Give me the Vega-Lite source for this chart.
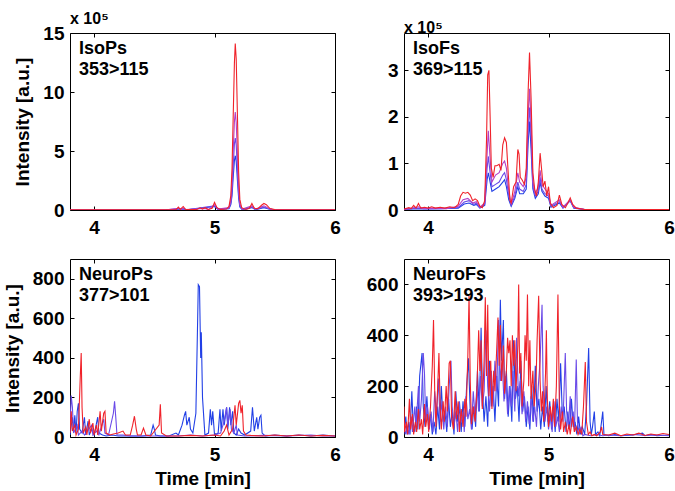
{
  "$schema": "https://vega.github.io/schema/vega-lite/v6.json",
  "background": "white",
  "padding": {"left": 2, "top": 10, "right": 4, "bottom": 2},
  "columns": 2,
  "bounds": "flush",
  "spacing": {"row": 49, "column": 69},
  "resolve": {"scale": {"x": "independent", "y": "independent"}},
  "config": {
    "font": "Liberation Sans",
    "view": {"stroke": "black", "strokeWidth": 1},
    "axis": {"labelFont": "Liberation Sans", "labelFontWeight": "bold", "labelFontSize": 19, "labelColor": "black", "titleFont": "Liberation Sans", "titleFontSize": 19, "titleFontWeight": "bold", "titleColor": "black", "tickColor": "black", "tickSize": -4, "tickWidth": 1, "domain": false, "grid": false, "labelFlush": false, "labelOverlap": false, "labelPadding": 10},
    "axisX": {"labelPadding": 12},
    "title": {"font": "Liberation Sans", "fontSize": 16, "fontWeight": "bold", "color": "black", "anchor": "start", "frame": "group", "offset": -3}
  },
  "datasets": {
    "isops": [
      {"s":"d","t":3.8,"v":0},{"s":"d","t":4.6,"v":0.01},{"s":"d","t":4.70,"v":0.06},{"s":"d","t":4.74,"v":0.08},{"s":"d","t":4.77,"v":0.01},{"s":"d","t":5.0,"v":0.3},{"s":"d","t":5.03,"v":0.04},{"s":"d","t":5.12,"v":0.1},{"s":"d","t":5.135,"v":0.45},{"s":"d","t":5.145,"v":1.2},{"s":"d","t":5.155,"v":2.8},{"s":"d","t":5.165,"v":4.2},{"s":"d","t":5.172,"v":4.6},{"s":"d","t":5.18,"v":4.1},{"s":"d","t":5.19,"v":2.5},{"s":"d","t":5.20,"v":1.0},{"s":"d","t":5.21,"v":0.25},{"s":"d","t":5.23,"v":0.03},{"s":"d","t":5.31,"v":0.2},{"s":"d","t":5.34,"v":0.03},{"s":"d","t":5.41,"v":0.2},{"s":"d","t":5.45,"v":0.08},{"s":"d","t":5.5,"v":0.01},{"s":"d","t":6.0,"v":0},
      {"s":"c","t":3.8,"v":0},{"s":"c","t":4.6,"v":0.01},{"s":"c","t":4.70,"v":0.1},{"s":"c","t":4.74,"v":0.12},{"s":"c","t":4.77,"v":0.02},{"s":"c","t":5.0,"v":0.35},{"s":"c","t":5.03,"v":0.05},{"s":"c","t":5.12,"v":0.15},{"s":"c","t":5.135,"v":0.6},{"s":"c","t":5.145,"v":1.6},{"s":"c","t":5.155,"v":3.7},{"s":"c","t":5.165,"v":5.6},{"s":"c","t":5.172,"v":6.1},{"s":"c","t":5.18,"v":5.5},{"s":"c","t":5.19,"v":3.4},{"s":"c","t":5.20,"v":1.3},{"s":"c","t":5.21,"v":0.35},{"s":"c","t":5.23,"v":0.05},{"s":"c","t":5.31,"v":0.25},{"s":"c","t":5.34,"v":0.05},{"s":"c","t":5.41,"v":0.25},{"s":"c","t":5.45,"v":0.1},{"s":"c","t":5.5,"v":0.02},{"s":"c","t":6.0,"v":0},
      {"s":"b","t":3.8,"v":0},{"s":"b","t":4.6,"v":0.01},{"s":"b","t":4.70,"v":0.15},{"s":"b","t":4.72,"v":0.03},{"s":"b","t":4.74,"v":0.18},{"s":"b","t":4.76,"v":0.03},{"s":"b","t":4.88,"v":0.1},{"s":"b","t":4.92,"v":0.12},{"s":"b","t":4.95,"v":0.03},{"s":"b","t":5.0,"v":0.45},{"s":"b","t":5.03,"v":0.08},{"s":"b","t":5.12,"v":0.2},{"s":"b","t":5.135,"v":0.8},{"s":"b","t":5.145,"v":2.2},{"s":"b","t":5.155,"v":5.0},{"s":"b","t":5.165,"v":7.5},{"s":"b","t":5.172,"v":8.3},{"s":"b","t":5.18,"v":7.4},{"s":"b","t":5.19,"v":4.6},{"s":"b","t":5.20,"v":1.8},{"s":"b","t":5.21,"v":0.5},{"s":"b","t":5.23,"v":0.08},{"s":"b","t":5.31,"v":0.35},{"s":"b","t":5.34,"v":0.08},{"s":"b","t":5.41,"v":0.35},{"s":"b","t":5.44,"v":0.2},{"s":"b","t":5.48,"v":0.03},{"s":"b","t":6.0,"v":0},
      {"s":"a","t":3.8,"v":0.01},{"s":"a","t":4.0,"v":0.01},{"s":"a","t":4.3,"v":0.01},{"s":"a","t":4.6,"v":0.02},{"s":"a","t":4.68,"v":0.03},{"s":"a","t":4.70,"v":0.25},{"s":"a","t":4.715,"v":0.05},{"s":"a","t":4.74,"v":0.3},{"s":"a","t":4.76,"v":0.04},{"s":"a","t":4.85,"v":0.03},{"s":"a","t":4.88,"v":0.18},{"s":"a","t":4.90,"v":0.08},{"s":"a","t":4.92,"v":0.2},{"s":"a","t":4.95,"v":0.05},{"s":"a","t":4.98,"v":0.15},{"s":"a","t":5.0,"v":0.65},{"s":"a","t":5.02,"v":0.2},{"s":"a","t":5.05,"v":0.05},{"s":"a","t":5.10,"v":0.08},{"s":"a","t":5.12,"v":0.3},{"s":"a","t":5.135,"v":1.2},{"s":"a","t":5.145,"v":3.5},{"s":"a","t":5.155,"v":8.0},{"s":"a","t":5.165,"v":12.5},{"s":"a","t":5.172,"v":14.1},{"s":"a","t":5.18,"v":12.8},{"s":"a","t":5.19,"v":8.0},{"s":"a","t":5.20,"v":3.2},{"s":"a","t":5.21,"v":0.9},{"s":"a","t":5.225,"v":0.2},{"s":"a","t":5.26,"v":0.05},{"s":"a","t":5.29,"v":0.15},{"s":"a","t":5.31,"v":0.55},{"s":"a","t":5.33,"v":0.15},{"s":"a","t":5.36,"v":0.12},{"s":"a","t":5.39,"v":0.4},{"s":"a","t":5.41,"v":0.55},{"s":"a","t":5.43,"v":0.45},{"s":"a","t":5.46,"v":0.12},{"s":"a","t":5.5,"v":0.03},{"s":"a","t":5.6,"v":0.01},{"s":"a","t":6.0,"v":0.01}
    ],
    "isofs": [
      {"s":"d","t":3.8,"v":0.01},{"s":"d","t":3.9,"v":0.03},{"s":"d","t":4.0,"v":0.02},{"s":"d","t":4.1,"v":0.03},{"s":"d","t":4.25,"v":0.04},{"s":"d","t":4.30,"v":0.13},{"s":"d","t":4.34,"v":0.15},{"s":"d","t":4.38,"v":0.1},{"s":"d","t":4.40,"v":0.12},{"s":"d","t":4.43,"v":0.04},{"s":"d","t":4.47,"v":0.1},{"s":"d","t":4.49,"v":0.65},{"s":"d","t":4.50,"v":0.8},{"s":"d","t":4.515,"v":0.6},{"s":"d","t":4.53,"v":0.4},{"s":"d","t":4.56,"v":0.45},{"s":"d","t":4.59,"v":0.5},{"s":"d","t":4.62,"v":0.6},{"s":"d","t":4.635,"v":0.65},{"s":"d","t":4.65,"v":0.5},{"s":"d","t":4.67,"v":0.22},{"s":"d","t":4.69,"v":0.08},{"s":"d","t":4.72,"v":0.25},{"s":"d","t":4.745,"v":0.5},{"s":"d","t":4.76,"v":0.35},{"s":"d","t":4.79,"v":0.35},{"s":"d","t":4.815,"v":0.45},{"s":"d","t":4.83,"v":1.4},{"s":"d","t":4.842,"v":1.9},{"s":"d","t":4.855,"v":1.3},{"s":"d","t":4.87,"v":0.45},{"s":"d","t":4.89,"v":0.25},{"s":"d","t":4.915,"v":0.35},{"s":"d","t":4.93,"v":0.6},{"s":"d","t":4.945,"v":0.4},{"s":"d","t":4.97,"v":0.3},{"s":"d","t":5.0,"v":0.25},{"s":"d","t":5.02,"v":0.06},{"s":"d","t":5.09,"v":0.15},{"s":"d","t":5.12,"v":0.04},{"s":"d","t":5.18,"v":0.2},{"s":"d","t":5.21,"v":0.04},{"s":"d","t":5.3,"v":0.01},{"s":"d","t":6.0,"v":0},
      {"s":"c","t":3.8,"v":0.01},{"s":"c","t":3.9,"v":0.04},{"s":"c","t":4.0,"v":0.03},{"s":"c","t":4.1,"v":0.03},{"s":"c","t":4.25,"v":0.05},{"s":"c","t":4.30,"v":0.17},{"s":"c","t":4.34,"v":0.2},{"s":"c","t":4.38,"v":0.12},{"s":"c","t":4.40,"v":0.15},{"s":"c","t":4.43,"v":0.05},{"s":"c","t":4.47,"v":0.12},{"s":"c","t":4.49,"v":0.9},{"s":"c","t":4.50,"v":1.15},{"s":"c","t":4.515,"v":0.8},{"s":"c","t":4.53,"v":0.5},{"s":"c","t":4.56,"v":0.55},{"s":"c","t":4.59,"v":0.6},{"s":"c","t":4.62,"v":0.75},{"s":"c","t":4.635,"v":0.8},{"s":"c","t":4.65,"v":0.65},{"s":"c","t":4.67,"v":0.3},{"s":"c","t":4.69,"v":0.1},{"s":"c","t":4.72,"v":0.3},{"s":"c","t":4.745,"v":0.6},{"s":"c","t":4.76,"v":0.45},{"s":"c","t":4.79,"v":0.4},{"s":"c","t":4.815,"v":0.55},{"s":"c","t":4.83,"v":1.7},{"s":"c","t":4.842,"v":2.2},{"s":"c","t":4.855,"v":1.6},{"s":"c","t":4.87,"v":0.5},{"s":"c","t":4.89,"v":0.3},{"s":"c","t":4.915,"v":0.4},{"s":"c","t":4.93,"v":0.7},{"s":"c","t":4.945,"v":0.45},{"s":"c","t":4.97,"v":0.35},{"s":"c","t":5.0,"v":0.3},{"s":"c","t":5.02,"v":0.08},{"s":"c","t":5.09,"v":0.18},{"s":"c","t":5.12,"v":0.05},{"s":"c","t":5.18,"v":0.2},{"s":"c","t":5.21,"v":0.05},{"s":"c","t":5.3,"v":0.01},{"s":"c","t":6.0,"v":0},
      {"s":"b","t":3.8,"v":0.01},{"s":"b","t":3.88,"v":0.05},{"s":"b","t":3.92,"v":0.07},{"s":"b","t":3.96,"v":0.03},{"s":"b","t":4.05,"v":0.04},{"s":"b","t":4.15,"v":0.03},{"s":"b","t":4.25,"v":0.08},{"s":"b","t":4.29,"v":0.22},{"s":"b","t":4.33,"v":0.25},{"s":"b","t":4.37,"v":0.15},{"s":"b","t":4.40,"v":0.18},{"s":"b","t":4.43,"v":0.06},{"s":"b","t":4.47,"v":0.15},{"s":"b","t":4.49,"v":1.2},{"s":"b","t":4.50,"v":1.7},{"s":"b","t":4.515,"v":1.1},{"s":"b","t":4.53,"v":0.6},{"s":"b","t":4.56,"v":0.75},{"s":"b","t":4.59,"v":0.8},{"s":"b","t":4.62,"v":1.0},{"s":"b","t":4.635,"v":1.05},{"s":"b","t":4.65,"v":0.9},{"s":"b","t":4.67,"v":0.4},{"s":"b","t":4.69,"v":0.12},{"s":"b","t":4.72,"v":0.4},{"s":"b","t":4.745,"v":0.8},{"s":"b","t":4.76,"v":0.6},{"s":"b","t":4.79,"v":0.5},{"s":"b","t":4.815,"v":0.7},{"s":"b","t":4.83,"v":2.0},{"s":"b","t":4.842,"v":2.6},{"s":"b","t":4.855,"v":1.9},{"s":"b","t":4.87,"v":0.6},{"s":"b","t":4.89,"v":0.35},{"s":"b","t":4.915,"v":0.5},{"s":"b","t":4.93,"v":0.85},{"s":"b","t":4.945,"v":0.55},{"s":"b","t":4.97,"v":0.45},{"s":"b","t":5.0,"v":0.35},{"s":"b","t":5.02,"v":0.1},{"s":"b","t":5.09,"v":0.22},{"s":"b","t":5.12,"v":0.06},{"s":"b","t":5.18,"v":0.22},{"s":"b","t":5.21,"v":0.06},{"s":"b","t":5.3,"v":0.01},{"s":"b","t":6.0,"v":0},
      {"s":"a","t":3.8,"v":0.02},{"s":"a","t":3.84,"v":0.05},{"s":"a","t":3.86,"v":0.03},{"s":"a","t":3.88,"v":0.1},{"s":"a","t":3.90,"v":0.04},{"s":"a","t":3.92,"v":0.14},{"s":"a","t":3.94,"v":0.04},{"s":"a","t":3.97,"v":0.06},{"s":"a","t":4.0,"v":0.04},{"s":"a","t":4.03,"v":0.07},{"s":"a","t":4.06,"v":0.04},{"s":"a","t":4.1,"v":0.06},{"s":"a","t":4.14,"v":0.04},{"s":"a","t":4.18,"v":0.07},{"s":"a","t":4.22,"v":0.05},{"s":"a","t":4.25,"v":0.12},{"s":"a","t":4.27,"v":0.3},{"s":"a","t":4.29,"v":0.38},{"s":"a","t":4.31,"v":0.36},{"s":"a","t":4.33,"v":0.38},{"s":"a","t":4.35,"v":0.32},{"s":"a","t":4.37,"v":0.2},{"s":"a","t":4.39,"v":0.24},{"s":"a","t":4.41,"v":0.2},{"s":"a","t":4.43,"v":0.08},{"s":"a","t":4.45,"v":0.05},{"s":"a","t":4.47,"v":0.2},{"s":"a","t":4.485,"v":1.5},{"s":"a","t":4.495,"v":2.9},{"s":"a","t":4.505,"v":3.0},{"s":"a","t":4.515,"v":2.0},{"s":"a","t":4.525,"v":0.9},{"s":"a","t":4.54,"v":0.7},{"s":"a","t":4.555,"v":0.95},{"s":"a","t":4.57,"v":0.95},{"s":"a","t":4.59,"v":0.98},{"s":"a","t":4.605,"v":0.85},{"s":"a","t":4.62,"v":1.4},{"s":"a","t":4.635,"v":1.55},{"s":"a","t":4.65,"v":1.45},{"s":"a","t":4.665,"v":0.8},{"s":"a","t":4.68,"v":0.2},{"s":"a","t":4.69,"v":0.15},{"s":"a","t":4.71,"v":0.5},{"s":"a","t":4.73,"v":0.6},{"s":"a","t":4.745,"v":1.3},{"s":"a","t":4.755,"v":1.2},{"s":"a","t":4.765,"v":0.7},{"s":"a","t":4.78,"v":0.65},{"s":"a","t":4.80,"v":0.55},{"s":"a","t":4.815,"v":0.9},{"s":"a","t":4.83,"v":2.5},{"s":"a","t":4.842,"v":3.38},{"s":"a","t":4.855,"v":2.4},{"s":"a","t":4.87,"v":0.8},{"s":"a","t":4.885,"v":0.45},{"s":"a","t":4.90,"v":0.3},{"s":"a","t":4.915,"v":0.6},{"s":"a","t":4.93,"v":1.22},{"s":"a","t":4.945,"v":0.8},{"s":"a","t":4.955,"v":0.5},{"s":"a","t":4.97,"v":0.62},{"s":"a","t":4.985,"v":0.3},{"s":"a","t":5.0,"v":0.5},{"s":"a","t":5.015,"v":0.15},{"s":"a","t":5.04,"v":0.05},{"s":"a","t":5.07,"v":0.1},{"s":"a","t":5.09,"v":0.32},{"s":"a","t":5.11,"v":0.12},{"s":"a","t":5.14,"v":0.05},{"s":"a","t":5.16,"v":0.15},{"s":"a","t":5.18,"v":0.26},{"s":"a","t":5.20,"v":0.12},{"s":"a","t":5.23,"v":0.04},{"s":"a","t":5.3,"v":0.01},{"s":"a","t":6.0,"v":0.01}
    ],
    "neurops": [
      {"s":"d","t":3.80,"v":10},{"s":"d","t":3.82,"v":100},{"s":"d","t":3.83,"v":30},{"s":"d","t":3.84,"v":110},{"s":"d","t":3.85,"v":20},{"s":"d","t":3.86,"v":130},{"s":"d","t":3.87,"v":170},{"s":"d","t":3.88,"v":40},{"s":"d","t":3.90,"v":20},{"s":"d","t":3.92,"v":100},{"s":"d","t":3.93,"v":10},{"s":"d","t":3.95,"v":80},{"s":"d","t":3.96,"v":10},{"s":"d","t":3.98,"v":40},{"s":"d","t":4.00,"v":10},{"s":"d","t":4.03,"v":100},{"s":"d","t":4.04,"v":20},{"s":"d","t":4.07,"v":10},{"s":"d","t":4.10,"v":5},{"s":"d","t":4.15,"v":10},{"s":"d","t":4.2,"v":5},{"s":"d","t":4.3,"v":5},{"s":"d","t":4.4,"v":5},{"s":"d","t":4.47,"v":10},{"s":"d","t":4.49,"v":60},{"s":"d","t":4.50,"v":40},{"s":"d","t":4.51,"v":10},{"s":"d","t":4.55,"v":5},{"s":"d","t":4.62,"v":5},{"s":"d","t":4.68,"v":20},{"s":"d","t":4.70,"v":10},{"s":"d","t":4.73,"v":60},{"s":"d","t":4.75,"v":110},{"s":"d","t":4.76,"v":130},{"s":"d","t":4.77,"v":60},{"s":"d","t":4.79,"v":100},{"s":"d","t":4.80,"v":40},{"s":"d","t":4.82,"v":20},{"s":"d","t":4.845,"v":120},{"s":"d","t":4.86,"v":600},{"s":"d","t":4.865,"v":770},{"s":"d","t":4.875,"v":760},{"s":"d","t":4.885,"v":400},{"s":"d","t":4.89,"v":530},{"s":"d","t":4.90,"v":200},{"s":"d","t":4.92,"v":10},{"s":"d","t":4.95,"v":20},{"s":"d","t":4.965,"v":140},{"s":"d","t":4.975,"v":60},{"s":"d","t":4.985,"v":130},{"s":"d","t":5.00,"v":10},{"s":"d","t":5.03,"v":20},{"s":"d","t":5.045,"v":140},{"s":"d","t":5.055,"v":30},{"s":"d","t":5.07,"v":140},{"s":"d","t":5.08,"v":60},{"s":"d","t":5.10,"v":150},{"s":"d","t":5.11,"v":40},{"s":"d","t":5.125,"v":150},{"s":"d","t":5.135,"v":60},{"s":"d","t":5.15,"v":130},{"s":"d","t":5.16,"v":20},{"s":"d","t":5.18,"v":10},{"s":"d","t":5.20,"v":40},{"s":"d","t":5.22,"v":20},{"s":"d","t":5.25,"v":10},{"s":"d","t":5.30,"v":30},{"s":"d","t":5.315,"v":150},{"s":"d","t":5.33,"v":30},{"s":"d","t":5.35,"v":100},{"s":"d","t":5.36,"v":40},{"s":"d","t":5.375,"v":100},{"s":"d","t":5.385,"v":110},{"s":"d","t":5.395,"v":20},{"s":"d","t":5.42,"v":5},{"s":"d","t":5.5,"v":10},{"s":"d","t":5.6,"v":5},{"s":"d","t":5.7,"v":10},{"s":"d","t":5.8,"v":5},{"s":"d","t":5.9,"v":10},{"s":"d","t":6.0,"v":5},
      {"s":"c","t":3.80,"v":50},{"s":"c","t":3.81,"v":210},{"s":"c","t":3.82,"v":150},{"s":"c","t":3.83,"v":20},{"s":"c","t":3.86,"v":60},{"s":"c","t":3.87,"v":10},{"s":"c","t":3.90,"v":30},{"s":"c","t":3.92,"v":10},{"s":"c","t":3.98,"v":60},{"s":"c","t":3.99,"v":10},{"s":"c","t":4.02,"v":30},{"s":"c","t":4.04,"v":10},{"s":"c","t":4.08,"v":90},{"s":"c","t":4.09,"v":20},{"s":"c","t":4.12,"v":10},{"s":"c","t":4.16,"v":120},{"s":"c","t":4.17,"v":180},{"s":"c","t":4.18,"v":100},{"s":"c","t":4.19,"v":10},{"s":"c","t":4.24,"v":10},{"s":"c","t":4.3,"v":5},{"s":"c","t":4.4,"v":5},{"s":"c","t":4.5,"v":5},{"s":"c","t":4.6,"v":5},{"s":"c","t":4.7,"v":5},{"s":"c","t":4.8,"v":10},{"s":"c","t":4.9,"v":5},{"s":"c","t":5.0,"v":10},{"s":"c","t":5.05,"v":20},{"s":"c","t":5.08,"v":80},{"s":"c","t":5.10,"v":150},{"s":"c","t":5.11,"v":60},{"s":"c","t":5.13,"v":140},{"s":"c","t":5.14,"v":40},{"s":"c","t":5.16,"v":20},{"s":"c","t":5.18,"v":60},{"s":"c","t":5.19,"v":10},{"s":"c","t":5.25,"v":5},{"s":"c","t":5.4,"v":8},{"s":"c","t":5.6,"v":5},{"s":"c","t":5.8,"v":10},{"s":"c","t":5.9,"v":5},{"s":"c","t":6.0,"v":5},
      {"s":"a","t":3.80,"v":20},{"s":"a","t":3.81,"v":130},{"s":"a","t":3.82,"v":30},{"s":"a","t":3.84,"v":60},{"s":"a","t":3.85,"v":10},{"s":"a","t":3.87,"v":40},{"s":"a","t":3.885,"v":300},{"s":"a","t":3.893,"v":425},{"s":"a","t":3.90,"v":150},{"s":"a","t":3.91,"v":20},{"s":"a","t":3.93,"v":50},{"s":"a","t":3.94,"v":10},{"s":"a","t":3.96,"v":90},{"s":"a","t":3.97,"v":20},{"s":"a","t":3.99,"v":70},{"s":"a","t":4.00,"v":10},{"s":"a","t":4.02,"v":60},{"s":"a","t":4.03,"v":10},{"s":"a","t":4.05,"v":130},{"s":"a","t":4.06,"v":30},{"s":"a","t":4.08,"v":120},{"s":"a","t":4.09,"v":130},{"s":"a","t":4.10,"v":20},{"s":"a","t":4.13,"v":10},{"s":"a","t":4.16,"v":15},{"s":"a","t":4.20,"v":20},{"s":"a","t":4.24,"v":30},{"s":"a","t":4.26,"v":10},{"s":"a","t":4.30,"v":10},{"s":"a","t":4.32,"v":60},{"s":"a","t":4.335,"v":105},{"s":"a","t":4.35,"v":40},{"s":"a","t":4.36,"v":10},{"s":"a","t":4.39,"v":10},{"s":"a","t":4.41,"v":45},{"s":"a","t":4.43,"v":10},{"s":"a","t":4.47,"v":5},{"s":"a","t":4.54,"v":60},{"s":"a","t":4.55,"v":165},{"s":"a","t":4.56,"v":20},{"s":"a","t":4.60,"v":5},{"s":"a","t":4.7,"v":5},{"s":"a","t":4.8,"v":8},{"s":"a","t":4.9,"v":5},{"s":"a","t":5.0,"v":10},{"s":"a","t":5.05,"v":5},{"s":"a","t":5.08,"v":30},{"s":"a","t":5.10,"v":60},{"s":"a","t":5.12,"v":10},{"s":"a","t":5.15,"v":40},{"s":"a","t":5.17,"v":160},{"s":"a","t":5.18,"v":60},{"s":"a","t":5.20,"v":170},{"s":"a","t":5.21,"v":185},{"s":"a","t":5.22,"v":120},{"s":"a","t":5.23,"v":160},{"s":"a","t":5.24,"v":30},{"s":"a","t":5.26,"v":10},{"s":"a","t":5.3,"v":8},{"s":"a","t":5.4,"v":5},{"s":"a","t":5.5,"v":10},{"s":"a","t":5.6,"v":5},{"s":"a","t":5.7,"v":10},{"s":"a","t":5.8,"v":5},{"s":"a","t":5.9,"v":8},{"s":"a","t":6.0,"v":5}
    ],
    "neurofs": [
      {"s":"d","t":3.80,"v":20},{"s":"d","t":3.815,"v":80},{"s":"d","t":3.825,"v":10},{"s":"d","t":3.84,"v":60},{"s":"d","t":3.85,"v":10},{"s":"d","t":3.865,"v":180},{"s":"d","t":3.875,"v":60},{"s":"d","t":3.89,"v":20},{"s":"d","t":3.905,"v":120},{"s":"d","t":3.915,"v":30},{"s":"d","t":3.93,"v":240},{"s":"d","t":3.95,"v":330},{"s":"d","t":3.96,"v":120},{"s":"d","t":3.975,"v":40},{"s":"d","t":3.99,"v":160},{"s":"d","t":4.005,"v":30},{"s":"d","t":4.02,"v":90},{"s":"d","t":4.035,"v":10},{"s":"d","t":4.05,"v":60},{"s":"d","t":4.065,"v":10},{"s":"d","t":4.08,"v":120},{"s":"d","t":4.095,"v":30},{"s":"d","t":4.11,"v":200},{"s":"d","t":4.125,"v":60},{"s":"d","t":4.14,"v":100},{"s":"d","t":4.155,"v":20},{"s":"d","t":4.17,"v":150},{"s":"d","t":4.185,"v":40},{"s":"d","t":4.20,"v":100},{"s":"d","t":4.215,"v":10},{"s":"d","t":4.23,"v":180},{"s":"d","t":4.245,"v":60},{"s":"d","t":4.26,"v":120},{"s":"d","t":4.275,"v":20},{"s":"d","t":4.29,"v":140},{"s":"d","t":4.305,"v":40},{"s":"d","t":4.32,"v":200},{"s":"d","t":4.335,"v":310},{"s":"d","t":4.35,"v":100},{"s":"d","t":4.365,"v":30},{"s":"d","t":4.38,"v":120},{"s":"d","t":4.395,"v":40},{"s":"d","t":4.41,"v":260},{"s":"d","t":4.425,"v":100},{"s":"d","t":4.44,"v":430},{"s":"d","t":4.45,"v":200},{"s":"d","t":4.465,"v":60},{"s":"d","t":4.48,"v":160},{"s":"d","t":4.495,"v":40},{"s":"d","t":4.51,"v":300},{"s":"d","t":4.525,"v":120},{"s":"d","t":4.54,"v":200},{"s":"d","t":4.555,"v":60},{"s":"d","t":4.57,"v":240},{"s":"d","t":4.585,"v":120},{"s":"d","t":4.60,"v":540},{"s":"d","t":4.61,"v":300},{"s":"d","t":4.625,"v":460},{"s":"d","t":4.635,"v":150},{"s":"d","t":4.65,"v":260},{"s":"d","t":4.665,"v":80},{"s":"d","t":4.68,"v":200},{"s":"d","t":4.695,"v":60},{"s":"d","t":4.71,"v":380},{"s":"d","t":4.725,"v":150},{"s":"d","t":4.74,"v":200},{"s":"d","t":4.755,"v":60},{"s":"d","t":4.77,"v":300},{"s":"d","t":4.785,"v":100},{"s":"d","t":4.80,"v":160},{"s":"d","t":4.815,"v":40},{"s":"d","t":4.83,"v":120},{"s":"d","t":4.845,"v":30},{"s":"d","t":4.86,"v":200},{"s":"d","t":4.875,"v":60},{"s":"d","t":4.89,"v":280},{"s":"d","t":4.905,"v":100},{"s":"d","t":4.92,"v":150},{"s":"d","t":4.935,"v":30},{"s":"d","t":4.95,"v":120},{"s":"d","t":4.965,"v":40},{"s":"d","t":4.98,"v":200},{"s":"d","t":4.995,"v":60},{"s":"d","t":5.01,"v":140},{"s":"d","t":5.025,"v":30},{"s":"d","t":5.04,"v":120},{"s":"d","t":5.055,"v":20},{"s":"d","t":5.07,"v":150},{"s":"d","t":5.085,"v":60},{"s":"d","t":5.10,"v":290},{"s":"d","t":5.115,"v":80},{"s":"d","t":5.13,"v":120},{"s":"d","t":5.145,"v":20},{"s":"d","t":5.16,"v":100},{"s":"d","t":5.175,"v":30},{"s":"d","t":5.19,"v":150},{"s":"d","t":5.205,"v":40},{"s":"d","t":5.22,"v":60},{"s":"d","t":5.235,"v":10},{"s":"d","t":5.25,"v":80},{"s":"d","t":5.265,"v":10},{"s":"d","t":5.28,"v":40},{"s":"d","t":5.30,"v":10},{"s":"d","t":5.315,"v":120},{"s":"d","t":5.333,"v":350},{"s":"d","t":5.345,"v":60},{"s":"d","t":5.355,"v":10},{"s":"d","t":5.365,"v":40},{"s":"d","t":5.38,"v":100},{"s":"d","t":5.39,"v":10},{"s":"d","t":5.41,"v":20},{"s":"d","t":5.425,"v":5},{"s":"d","t":5.44,"v":60},{"s":"d","t":5.45,"v":100},{"s":"d","t":5.46,"v":10},{"s":"d","t":5.5,"v":5},{"s":"d","t":5.55,"v":10},{"s":"d","t":5.6,"v":5},{"s":"d","t":5.7,"v":8},{"s":"d","t":5.78,"v":15},{"s":"d","t":5.8,"v":5},{"s":"d","t":5.85,"v":10},{"s":"d","t":5.9,"v":5},{"s":"d","t":6.0,"v":8},
      {"s":"c","t":3.80,"v":60},{"s":"c","t":3.81,"v":10},{"s":"c","t":3.83,"v":40},{"s":"c","t":3.84,"v":10},{"s":"c","t":3.86,"v":80},{"s":"c","t":3.87,"v":20},{"s":"c","t":3.89,"v":120},{"s":"c","t":3.90,"v":40},{"s":"c","t":3.92,"v":200},{"s":"c","t":3.93,"v":60},{"s":"c","t":3.945,"v":150},{"s":"c","t":3.96,"v":330},{"s":"c","t":3.97,"v":250},{"s":"c","t":3.98,"v":60},{"s":"c","t":3.995,"v":120},{"s":"c","t":4.01,"v":30},{"s":"c","t":4.025,"v":100},{"s":"c","t":4.04,"v":20},{"s":"c","t":4.055,"v":180},{"s":"c","t":4.07,"v":80},{"s":"c","t":4.085,"v":230},{"s":"c","t":4.10,"v":60},{"s":"c","t":4.115,"v":140},{"s":"c","t":4.13,"v":30},{"s":"c","t":4.145,"v":120},{"s":"c","t":4.16,"v":40},{"s":"c","t":4.175,"v":200},{"s":"c","t":4.19,"v":300},{"s":"c","t":4.20,"v":120},{"s":"c","t":4.215,"v":40},{"s":"c","t":4.23,"v":100},{"s":"c","t":4.245,"v":20},{"s":"c","t":4.26,"v":140},{"s":"c","t":4.275,"v":60},{"s":"c","t":4.29,"v":100},{"s":"c","t":4.30,"v":20},{"s":"c","t":4.315,"v":160},{"s":"c","t":4.33,"v":70},{"s":"c","t":4.345,"v":110},{"s":"c","t":4.36,"v":30},{"s":"c","t":4.375,"v":180},{"s":"c","t":4.39,"v":80},{"s":"c","t":4.405,"v":200},{"s":"c","t":4.42,"v":100},{"s":"c","t":4.435,"v":240},{"s":"c","t":4.45,"v":120},{"s":"c","t":4.465,"v":180},{"s":"c","t":4.48,"v":420},{"s":"c","t":4.495,"v":200},{"s":"c","t":4.51,"v":100},{"s":"c","t":4.525,"v":260},{"s":"c","t":4.54,"v":120},{"s":"c","t":4.555,"v":300},{"s":"c","t":4.57,"v":180},{"s":"c","t":4.585,"v":460},{"s":"c","t":4.60,"v":220},{"s":"c","t":4.615,"v":300},{"s":"c","t":4.63,"v":140},{"s":"c","t":4.645,"v":240},{"s":"c","t":4.66,"v":90},{"s":"c","t":4.675,"v":200},{"s":"c","t":4.69,"v":120},{"s":"c","t":4.705,"v":260},{"s":"c","t":4.72,"v":100},{"s":"c","t":4.735,"v":390},{"s":"c","t":4.75,"v":160},{"s":"c","t":4.765,"v":220},{"s":"c","t":4.78,"v":90},{"s":"c","t":4.795,"v":180},{"s":"c","t":4.81,"v":60},{"s":"c","t":4.825,"v":140},{"s":"c","t":4.84,"v":50},{"s":"c","t":4.855,"v":160},{"s":"c","t":4.87,"v":60},{"s":"c","t":4.885,"v":120},{"s":"c","t":4.90,"v":40},{"s":"c","t":4.915,"v":200},{"s":"c","t":4.93,"v":300},{"s":"c","t":4.946,"v":520},{"s":"c","t":4.955,"v":200},{"s":"c","t":4.97,"v":60},{"s":"c","t":4.985,"v":120},{"s":"c","t":5.00,"v":30},{"s":"c","t":5.015,"v":90},{"s":"c","t":5.03,"v":20},{"s":"c","t":5.045,"v":140},{"s":"c","t":5.06,"v":40},{"s":"c","t":5.075,"v":80},{"s":"c","t":5.09,"v":20},{"s":"c","t":5.105,"v":120},{"s":"c","t":5.12,"v":60},{"s":"c","t":5.139,"v":330},{"s":"c","t":5.15,"v":100},{"s":"c","t":5.165,"v":40},{"s":"c","t":5.18,"v":160},{"s":"c","t":5.19,"v":40},{"s":"c","t":5.205,"v":100},{"s":"c","t":5.215,"v":20},{"s":"c","t":5.23,"v":305},{"s":"c","t":5.24,"v":60},{"s":"c","t":5.255,"v":10},{"s":"c","t":5.27,"v":40},{"s":"c","t":5.285,"v":5},{"s":"c","t":5.3,"v":10},{"s":"c","t":5.35,"v":5},{"s":"c","t":5.4,"v":10},{"s":"c","t":5.45,"v":5},{"s":"c","t":5.5,"v":8},{"s":"c","t":5.6,"v":5},{"s":"c","t":5.7,"v":10},{"s":"c","t":5.8,"v":6},{"s":"c","t":5.9,"v":8},{"s":"c","t":6.0,"v":5},
      {"s":"a","t":3.80,"v":120},{"s":"a","t":3.805,"v":20},{"s":"a","t":3.82,"v":60},{"s":"a","t":3.83,"v":10},{"s":"a","t":3.845,"v":150},{"s":"a","t":3.855,"v":30},{"s":"a","t":3.87,"v":90},{"s":"a","t":3.88,"v":10},{"s":"a","t":3.895,"v":60},{"s":"a","t":3.905,"v":20},{"s":"a","t":3.92,"v":110},{"s":"a","t":3.93,"v":30},{"s":"a","t":3.945,"v":70},{"s":"a","t":3.955,"v":10},{"s":"a","t":3.97,"v":130},{"s":"a","t":3.98,"v":40},{"s":"a","t":3.995,"v":90},{"s":"a","t":4.005,"v":20},{"s":"a","t":4.02,"v":120},{"s":"a","t":4.035,"v":280},{"s":"a","t":4.045,"v":460},{"s":"a","t":4.055,"v":180},{"s":"a","t":4.065,"v":40},{"s":"a","t":4.08,"v":200},{"s":"a","t":4.09,"v":330},{"s":"a","t":4.10,"v":120},{"s":"a","t":4.11,"v":30},{"s":"a","t":4.125,"v":140},{"s":"a","t":4.135,"v":60},{"s":"a","t":4.15,"v":200},{"s":"a","t":4.16,"v":100},{"s":"a","t":4.175,"v":290},{"s":"a","t":4.185,"v":300},{"s":"a","t":4.195,"v":80},{"s":"a","t":4.21,"v":30},{"s":"a","t":4.225,"v":180},{"s":"a","t":4.235,"v":70},{"s":"a","t":4.25,"v":140},{"s":"a","t":4.26,"v":20},{"s":"a","t":4.275,"v":110},{"s":"a","t":4.29,"v":40},{"s":"a","t":4.305,"v":150},{"s":"a","t":4.315,"v":80},{"s":"a","t":4.33,"v":320},{"s":"a","t":4.34,"v":555},{"s":"a","t":4.35,"v":220},{"s":"a","t":4.36,"v":50},{"s":"a","t":4.375,"v":120},{"s":"a","t":4.39,"v":60},{"s":"a","t":4.405,"v":180},{"s":"a","t":4.42,"v":420},{"s":"a","t":4.43,"v":260},{"s":"a","t":4.44,"v":380},{"s":"a","t":4.45,"v":110},{"s":"a","t":4.465,"v":300},{"s":"a","t":4.475,"v":550},{"s":"a","t":4.485,"v":240},{"s":"a","t":4.495,"v":520},{"s":"a","t":4.505,"v":160},{"s":"a","t":4.52,"v":300},{"s":"a","t":4.53,"v":110},{"s":"a","t":4.545,"v":260},{"s":"a","t":4.555,"v":180},{"s":"a","t":4.57,"v":350},{"s":"a","t":4.58,"v":470},{"s":"a","t":4.59,"v":280},{"s":"a","t":4.60,"v":440},{"s":"a","t":4.61,"v":220},{"s":"a","t":4.625,"v":360},{"s":"a","t":4.635,"v":170},{"s":"a","t":4.65,"v":260},{"s":"a","t":4.66,"v":390},{"s":"a","t":4.67,"v":330},{"s":"a","t":4.68,"v":380},{"s":"a","t":4.69,"v":200},{"s":"a","t":4.70,"v":400},{"s":"a","t":4.71,"v":280},{"s":"a","t":4.72,"v":380},{"s":"a","t":4.73,"v":180},{"s":"a","t":4.745,"v":360},{"s":"a","t":4.752,"v":600},{"s":"a","t":4.76,"v":250},{"s":"a","t":4.77,"v":330},{"s":"a","t":4.78,"v":120},{"s":"a","t":4.795,"v":220},{"s":"a","t":4.805,"v":400},{"s":"a","t":4.815,"v":300},{"s":"a","t":4.825,"v":560},{"s":"a","t":4.835,"v":200},{"s":"a","t":4.845,"v":380},{"s":"a","t":4.855,"v":150},{"s":"a","t":4.87,"v":260},{"s":"a","t":4.88,"v":120},{"s":"a","t":4.895,"v":200},{"s":"a","t":4.905,"v":380},{"s":"a","t":4.918,"v":555},{"s":"a","t":4.93,"v":220},{"s":"a","t":4.94,"v":100},{"s":"a","t":4.95,"v":180},{"s":"a","t":4.96,"v":60},{"s":"a","t":4.975,"v":250},{"s":"a","t":4.982,"v":420},{"s":"a","t":4.99,"v":150},{"s":"a","t":5.00,"v":40},{"s":"a","t":5.015,"v":120},{"s":"a","t":5.025,"v":60},{"s":"a","t":5.04,"v":150},{"s":"a","t":5.05,"v":40},{"s":"a","t":5.065,"v":200},{"s":"a","t":5.078,"v":560},{"s":"a","t":5.09,"v":120},{"s":"a","t":5.10,"v":30},{"s":"a","t":5.115,"v":100},{"s":"a","t":5.125,"v":20},{"s":"a","t":5.14,"v":60},{"s":"a","t":5.155,"v":10},{"s":"a","t":5.17,"v":50},{"s":"a","t":5.18,"v":10},{"s":"a","t":5.20,"v":80},{"s":"a","t":5.215,"v":20},{"s":"a","t":5.23,"v":40},{"s":"a","t":5.245,"v":10},{"s":"a","t":5.26,"v":30},{"s":"a","t":5.275,"v":10},{"s":"a","t":5.29,"v":120},{"s":"a","t":5.305,"v":295},{"s":"a","t":5.315,"v":60},{"s":"a","t":5.33,"v":10},{"s":"a","t":5.345,"v":20},{"s":"a","t":5.36,"v":5},{"s":"a","t":5.38,"v":10},{"s":"a","t":5.40,"v":5},{"s":"a","t":5.43,"v":20},{"s":"a","t":5.44,"v":40},{"s":"a","t":5.45,"v":10},{"s":"a","t":5.5,"v":8},{"s":"a","t":5.55,"v":15},{"s":"a","t":5.6,"v":5},{"s":"a","t":5.65,"v":12},{"s":"a","t":5.7,"v":8},{"s":"a","t":5.75,"v":15},{"s":"a","t":5.8,"v":6},{"s":"a","t":5.85,"v":12},{"s":"a","t":5.9,"v":8},{"s":"a","t":5.95,"v":14},{"s":"a","t":6.0,"v":10}
    ]
  },
  "concat": [
    {
      "width": 265, "height": 177,
      "title": {"text": "x 10⁵"},
      "resolve": {"axis": {"x": "independent", "y": "independent"}},
      "layer": [
        {
          "data": {"name": "isops"},
          "mark": {"type": "line", "strokeWidth": 1.1, "clip": true},
          "encoding": {
            "x": {"field": "t", "type": "quantitative", "scale": {"domain": [3.8, 6], "nice": false, "zero": false}, "axis": {"orient": "bottom", "values": [4, 5, 6], "title": null}},
            "y": {"field": "v", "type": "quantitative", "scale": {"domain": [0, 15], "nice": false}, "axis": {"orient": "left", "values": [0, 5, 10, 15], "title": "Intensity [a.u.]", "titlePadding": 10}},
            "color": {"field": "s", "type": "nominal", "scale": {"domain": ["a", "b", "c", "d"], "range": ["#f0222a", "#b340c8", "#6a4ae8", "#2240e6"]}, "legend": null}
          }
        },
        {
          "data": {"values": [{"label": "IsoPs\n353>115"}]},
          "mark": {"type": "text", "align": "left", "baseline": "top", "lineBreak": "\n", "fontSize": 18, "fontWeight": "bold", "font": "Liberation Sans", "lineHeight": 21, "color": "black"},
          "encoding": {
            "x": {"datum": 3.875, "type": "quantitative", "axis": {"orient": "top", "values": [4, 5, 6], "labels": false, "title": null}},
            "y": {"datum": 14.4, "type": "quantitative", "axis": {"orient": "right", "values": [0, 5, 10, 15], "labels": false, "title": null}},
            "text": {"field": "label"}
          }
        }
      ]
    },
    {
      "width": 265, "height": 177,
      "title": {"text": "x 10⁵"},
      "resolve": {"axis": {"x": "independent", "y": "independent"}},
      "layer": [
        {
          "data": {"name": "isofs"},
          "mark": {"type": "line", "strokeWidth": 1.1, "clip": true},
          "encoding": {
            "x": {"field": "t", "type": "quantitative", "scale": {"domain": [3.8, 6], "nice": false, "zero": false}, "axis": {"orient": "bottom", "values": [4, 5, 6], "title": null}},
            "y": {"field": "v", "type": "quantitative", "scale": {"domain": [0, 3.8], "nice": false}, "axis": {"orient": "left", "values": [0, 1, 2, 3], "title": null}},
            "color": {"field": "s", "type": "nominal", "scale": {"domain": ["a", "b", "c", "d"], "range": ["#f0222a", "#b340c8", "#6a4ae8", "#2240e6"]}, "legend": null}
          }
        },
        {
          "data": {"values": [{"label": "IsoFs\n369>115"}]},
          "mark": {"type": "text", "align": "left", "baseline": "top", "lineBreak": "\n", "fontSize": 18, "fontWeight": "bold", "font": "Liberation Sans", "lineHeight": 21, "color": "black"},
          "encoding": {
            "x": {"datum": 3.875, "type": "quantitative", "axis": {"orient": "top", "values": [4, 5, 6], "labels": false, "title": null}},
            "y": {"datum": 3.65, "type": "quantitative", "axis": {"orient": "right", "values": [0, 1, 2, 3], "labels": false, "title": null}},
            "text": {"field": "label"}
          }
        }
      ]
    },
    {
      "width": 265, "height": 178,
      "resolve": {"axis": {"x": "independent", "y": "independent"}},
      "layer": [
        {
          "data": {"name": "neurops"},
          "mark": {"type": "line", "strokeWidth": 1.1, "clip": true},
          "encoding": {
            "x": {"field": "t", "type": "quantitative", "scale": {"domain": [3.8, 6], "nice": false, "zero": false}, "axis": {"orient": "bottom", "values": [4, 5, 6], "title": "Time [min]", "titlePadding": 5}},
            "y": {"field": "v", "type": "quantitative", "scale": {"domain": [0, 900], "nice": false}, "axis": {"orient": "left", "values": [0, 200, 400, 600, 800], "title": "Intensity [a.u.]", "titlePadding": 10}},
            "color": {"field": "s", "type": "nominal", "scale": {"domain": ["a", "b", "c", "d"], "range": ["#f0222a", "#b340c8", "#8a46e6", "#2240e6"]}, "legend": null}
          }
        },
        {
          "data": {"values": [{"label": "NeuroPs\n377>101"}]},
          "mark": {"type": "text", "align": "left", "baseline": "top", "lineBreak": "\n", "fontSize": 18, "fontWeight": "bold", "font": "Liberation Sans", "lineHeight": 21, "color": "black"},
          "encoding": {
            "x": {"datum": 3.875, "type": "quantitative", "axis": {"orient": "top", "values": [4, 5, 6], "labels": false, "title": null}},
            "y": {"datum": 865, "type": "quantitative", "axis": {"orient": "right", "values": [0, 200, 400, 600, 800], "labels": false, "title": null}},
            "text": {"field": "label"}
          }
        }
      ]
    },
    {
      "width": 265, "height": 178,
      "resolve": {"axis": {"x": "independent", "y": "independent"}},
      "layer": [
        {
          "data": {"name": "neurofs"},
          "mark": {"type": "line", "strokeWidth": 1.1, "clip": true},
          "encoding": {
            "x": {"field": "t", "type": "quantitative", "scale": {"domain": [3.8, 6], "nice": false, "zero": false}, "axis": {"orient": "bottom", "values": [4, 5, 6], "title": "Time [min]", "titlePadding": 5}},
            "y": {"field": "v", "type": "quantitative", "scale": {"domain": [0, 700], "nice": false}, "axis": {"orient": "left", "values": [0, 200, 400, 600], "title": null}},
            "color": {"field": "s", "type": "nominal", "scale": {"domain": ["a", "b", "c", "d"], "range": ["#f0222a", "#b340c8", "#8a46e6", "#2240e6"]}, "legend": null}
          }
        },
        {
          "data": {"values": [{"label": "NeuroFs\n393>193"}]},
          "mark": {"type": "text", "align": "left", "baseline": "top", "lineBreak": "\n", "fontSize": 18, "fontWeight": "bold", "font": "Liberation Sans", "lineHeight": 21, "color": "black"},
          "encoding": {
            "x": {"datum": 3.875, "type": "quantitative", "axis": {"orient": "top", "values": [4, 5, 6], "labels": false, "title": null}},
            "y": {"datum": 672, "type": "quantitative", "axis": {"orient": "right", "values": [0, 200, 400, 600], "labels": false, "title": null}},
            "text": {"field": "label"}
          }
        }
      ]
    }
  ]
}
